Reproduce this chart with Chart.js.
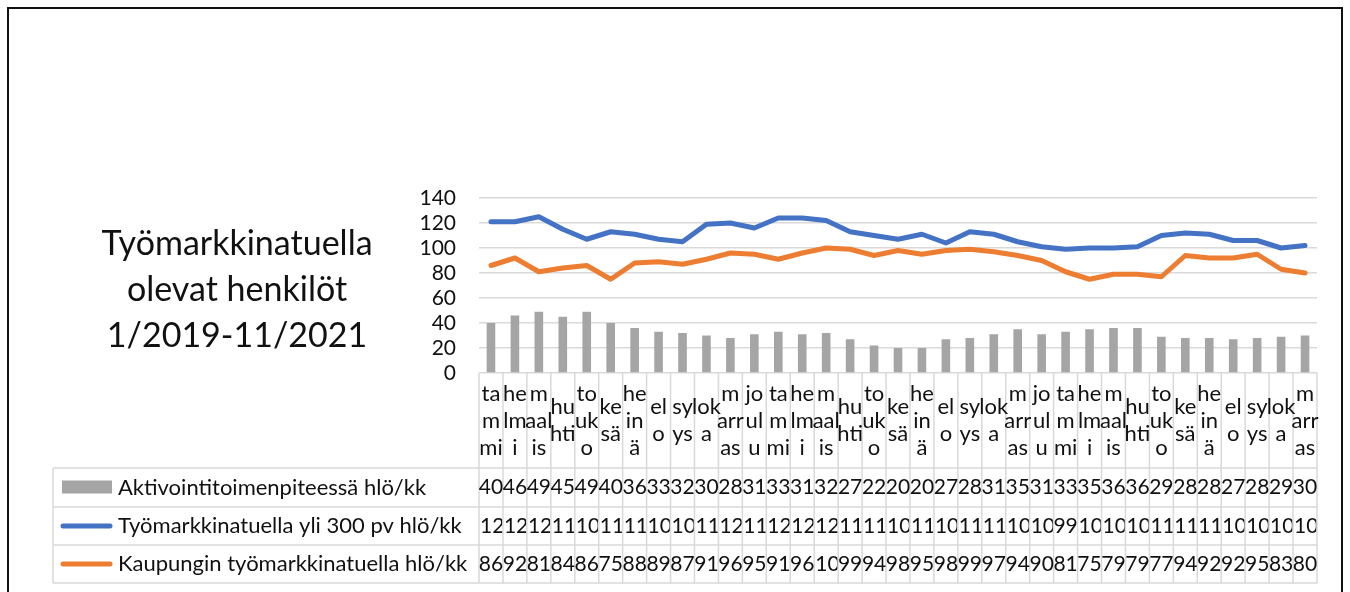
<!DOCTYPE html>
<html>
<head>
<meta charset="utf-8">
<script src="https://cdn.jsdelivr.net/npm/chart.js@4/dist/chart.umd.min.js"></script>
<style>
  html, body { margin: 0; padding: 0; background: #fff; }
  #wrap { width: 1350px; height: 592px; }
</style>
</head>
<body>
<div id="wrap"><canvas id="tyoChart" width="1350" height="592"></canvas></div>
<script>
// kuukausien nimet rivitettyinä kuten alkuperäisessä taulukossa
const kuukaudet = [
  ["ta", "m", "mi"], ["he", "lm", "i"], ["m", "aal", "is"], ["hu", "hti"],
  ["to", "uk", "o"], ["ke", "sä"], ["he", "in", "ä"], ["el", "o"],
  ["sy", "ys"], ["lok", "a"], ["m", "arr", "as"], ["jo", "ul", "u"]
];
const luokat = [...kuukaudet, ...kuukaudet, ...kuukaudet.slice(0, 11)];

const aktivointi = [40, 46, 49, 45, 49, 40, 36, 33, 32, 30, 28, 31,
  33, 31, 32, 27, 22, 20, 20, 27, 28, 31, 35, 31,
  33, 35, 36, 36, 29, 28, 28, 27, 28, 29, 30];
const yli300 = [121, 121, 125, 115, 107, 113, 111, 107, 105, 119, 120, 116,
  124, 124, 122, 113, 110, 107, 111, 104, 113, 111, 105, 101,
  99, 100, 100, 101, 110, 112, 111, 106, 106, 100, 102];
const kaupunki = [86, 92, 81, 84, 86, 75, 88, 89, 87, 91, 96, 95,
  91, 96, 100, 99, 94, 98, 95, 98, 99, 97, 94, 90,
  81, 75, 79, 79, 77, 94, 92, 92, 95, 83, 80];

const sarjaNimet = [
  "Aktivointitoimenpiteessä hlö/kk",
  "Työmarkkinatuella yli 300 pv hlö/kk",
  "Kaupungin työmarkkinatuella hlö/kk"
];
const otsikko = ["Työmarkkinatuella", "olevat henkilöt", "1/2019-11/2021"];

const harmaa = "#a5a5a5";
const sininen = "#4472c4";
const oranssi = "#ed7d31";
const viiva = "#d9d9d9";
const fontti = "Lato";

// piirtää otsikon, kehyksen ja datataulukon kaavion alle
const taulukkoPlugin = {
  id: "taulukko",
  afterDraw(chart) {
    const ctx = chart.ctx;
    const x = chart.scales.x;
    const area = chart.chartArea;
    const n = luokat.length;
    const leveys = (area.right - area.left) / n;
    const riviY = [468, 507, 545, 583];
    const vasen = 53;

    ctx.save();

    // ulkokehys
    ctx.strokeStyle = "#111";
    ctx.lineWidth = 2;
    ctx.strokeRect(8, 8, 1334, 700);

    // otsikko
    ctx.fillStyle = "#111";
    ctx.font = "34px " + fontti;
    ctx.textAlign = "center";
    ctx.textBaseline = "middle";
    otsikko.forEach((rivi, i) => ctx.fillText(rivi, 237, 244 + i * 46));

    // ruudukko
    ctx.strokeStyle = viiva;
    ctx.lineWidth = 1.5;
    ctx.beginPath();
    for (let k = 0; k <= n; k++) {
      const px = area.left + k * leveys;
      ctx.moveTo(px, area.bottom);
      ctx.lineTo(px, riviY[3]);
    }
    riviY.forEach(y => {
      ctx.moveTo(vasen, y);
      ctx.lineTo(area.right, y);
    });
    ctx.moveTo(vasen, riviY[0]);
    ctx.lineTo(vasen, riviY[3]);
    ctx.stroke();

    // kuukausien nimet
    ctx.fillStyle = "#111";
    ctx.font = "22px " + fontti;
    ctx.textAlign = "center";
    const keskiY = (area.bottom + riviY[0]) / 2;
    luokat.forEach((rivit, i) => {
      const cx = x.getPixelForValue(i);
      const y0 = keskiY - (rivit.length - 1) * 27 / 2;
      rivit.forEach((t, j) => ctx.fillText(t, cx, y0 + j * 27));
    });

    // selitteet
    const sarjat = [aktivointi, yli300, kaupunki];
    const varit = [harmaa, sininen, oranssi];
    sarjat.forEach((arvot, r) => {
      const yc = (riviY[r] + riviY[r + 1]) / 2;
      if (r === 0) {
        ctx.fillStyle = varit[r];
        ctx.fillRect(62, yc - 7, 50, 13);
      } else {
        ctx.strokeStyle = varit[r];
        ctx.lineWidth = 5;
        ctx.lineCap = "round";
        ctx.beginPath();
        ctx.moveTo(63, yc);
        ctx.lineTo(110, yc);
        ctx.stroke();
      }
      ctx.fillStyle = "#111";
      ctx.font = "22px " + fontti;
      ctx.textAlign = "left";
      ctx.fillText(sarjaNimet[r], 118, yc);

      // arvot soluihin, kolminumeroiset leikataan solun reunaan
      ctx.font = "21px " + fontti;
      arvot.forEach((v, i) => {
        const s = String(v);
        const cx = x.getPixelForValue(i);
        if (s.length <= 2) {
          ctx.textAlign = "center";
          ctx.fillText(s, cx, yc);
        } else {
          ctx.save();
          ctx.beginPath();
          ctx.rect(cx - leveys / 2 + 0.8, riviY[r], leveys - 1.6, riviY[r + 1] - riviY[r]);
          ctx.clip();
          ctx.textAlign = "left";
          ctx.fillText(s, cx - leveys / 2 + 1, yc);
          ctx.restore();
        }
      });
    });

    ctx.restore();
  }
};

new Chart(document.getElementById("tyoChart"), {
  data: {
    labels: luokat,
    datasets: [
      {
        type: "line",
        label: sarjaNimet[1],
        data: yli300,
        borderColor: sininen,
        borderWidth: 5,
        pointRadius: 0,
        borderCapStyle: "round",
        borderJoinStyle: "round",
        order: 1
      },
      {
        type: "line",
        label: sarjaNimet[2],
        data: kaupunki,
        borderColor: oranssi,
        borderWidth: 5,
        pointRadius: 0,
        borderCapStyle: "round",
        borderJoinStyle: "round",
        order: 2
      },
      {
        type: "bar",
        label: sarjaNimet[0],
        data: aktivointi,
        backgroundColor: harmaa,
        categoryPercentage: 1,
        barPercentage: 0.36,
        order: 3
      }
    ]
  },
  options: {
    responsive: false,
    animation: false,
    layout: { padding: { left: 0, right: 33, top: 198, bottom: 219 } },
    plugins: {
      legend: { display: false },
      tooltip: { enabled: false }
    },
    scales: {
      x: {
        display: false,
        offset: true
      },
      y: {
        min: 0,
        max: 140,
        afterFit: s => { s.width = 479; },
        border: { display: false },
        grid: { color: viiva, lineWidth: 1.5, drawTicks: false },
        ticks: {
          stepSize: 20,
          autoSkip: false,
          padding: 23,
          color: "#111",
          font: { family: fontti, size: 21 }
        }
      }
    }
  },
  plugins: [taulukkoPlugin]
});
</script>
</body>
</html>
